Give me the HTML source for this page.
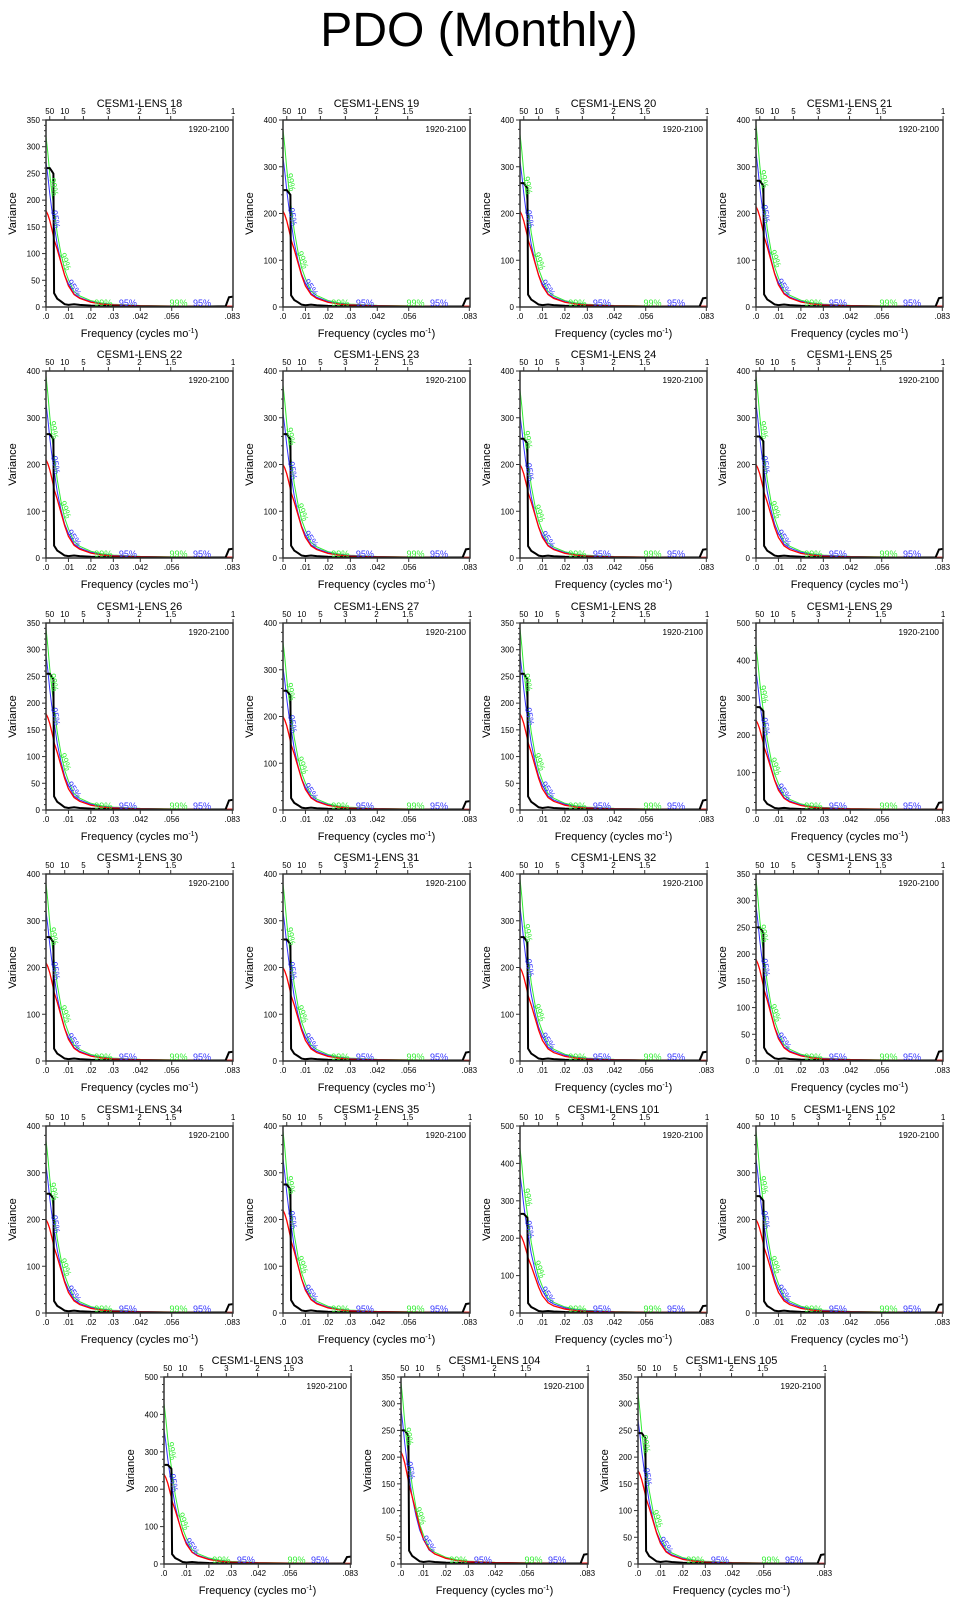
<!DOCTYPE html>
<html><head><meta charset="utf-8"><style>
html,body{margin:0;padding:0;background:#fff;}
svg{display:block;font-family:"Liberation Sans",sans-serif;}
</style></head><body>
<svg id="fig" width="958" height="1602" viewBox="0 0 958 1602" xmlns="http://www.w3.org/2000/svg">
<text x="479" y="46" text-anchor="middle" font-size="48" fill="#000">PDO (Monthly)</text>
</svg>
<script>
// Shared frequency grid (cycles/month)
const freq = [0, .00083, .00167, .0025, .0033, .0036, .005, .0067, .0083, .01, .0125, .015, .02, .025, .03, .042, .056, .07, .08, .0815, .0833];
// Spectrum shape fractions (of plateau / start values)
const blackShape = [1,1,1,0.98,0.96,0.1,0.06,0.04,0.02,0.015,0.02,0.015,0.01,0.008,0.005,0.003,0.003,0.003,0.005,0.07,0.075];
const redShape = [1,0.96,0.9,0.82,0.74,0.7,0.6,0.46,0.33,0.22,0.13,0.09,0.05,0.03,0.02,0.012,0.009,0.007,0.007,0.007,0.007];
const sigShape = [1,0.9,0.78,0.68,0.6,0.57,0.43,0.31,0.22,0.16,0.09,0.065,0.037,0.023,0.016,0.009,0.006,0.005,0.004,0.004,0.004];
// Per-panel values
const members = ["18","19","20","21","22","23","24","25","26","27","28","29","30","31","32","33","34","35","101","102","103","104","105"];
const yMaxes  = [350,400,400,400,400,400,400,400,350,400,350,500,400,400,400,350,400,400,500,400,500,350,350];
const blackLevel = [260,250,265,270,265,265,255,260,255,255,255,275,265,260,265,250,255,275,265,250,265,250,245];
const redStart   = [180,205,205,215,210,200,200,200,180,200,180,240,210,200,200,190,200,220,210,200,240,210,175];
const greenStart = [320,380,370,390,390,370,360,390,340,360,340,440,380,380,390,340,370,390,440,390,430,340,320];
const blueStart  = [272,320,312,330,330,310,305,330,290,305,290,370,320,320,330,290,315,330,370,330,360,290,270];
const bottomTicks = [0,.01,.02,.03,.042,.056,.083];
const bottomLabels = [".0",".01",".02",".03",".042",".056",".083"];
const periodYears = [50,10,5,3,2,1.5,1];
const periodLabels = ["50","10","5","3","2","1.5","1"];

const NS="http://www.w3.org/2000/svg";
const svg=document.getElementById('fig');
function mk(tag,attrs,parent){const e=document.createElementNS(NS,tag);for(const k in attrs)e.setAttribute(k,attrs[k]);(parent||svg).appendChild(e);return e;}
const XMAX=0.0833, W=187, H=187;
const colX=[46,283,520,756], lastX=[164,401,638];
const rowY=[120,371,623,874,1126,1377];

members.forEach((m,i)=>{
  let r=Math.floor(i/4), c=i%4;
  let L = r<5 ? colX[c] : lastX[c];
  let T = rowY[r];
  const ymax=yMaxes[i];
  const sx=f=>L+f/XMAX*W;
  const sy=v=>T+H-Math.min(v,ymax)/ymax*H;
  const g=mk('g',{});
  
  
  const t=mk('text',{x:L+W/2,y:T-13,'text-anchor':'middle','font-size':11},g);
  t.textContent='CESM1-LENS '+m;
  
  
  const pr=mk('text',{x:L+W-4,y:T+12,'text-anchor':'end','font-size':8.5},g);
  pr.textContent='1920-2100';
  
  
  const cid='clip'+i;
  const cp=mk('clipPath',{id:cid},g);mk('rect',{x:L,y:T,width:W,height:H},cp);
  const plot=mk('g',{'clip-path':'url(#'+cid+')'},g);
  const path=(arr,scale)=>freq.map((f,k)=>(k?'L':'M')+sx(f).toFixed(2)+','+sy(arr[k]*scale).toFixed(2)).join('');
  const gl=mk('path',{d:path(sigShape,greenStart[i]),fill:'none',stroke:'#33ee33','stroke-width':1},plot);
  
  
  const bl=mk('path',{d:path(sigShape,blueStart[i]),fill:'none',stroke:'#3333ff','stroke-width':1},plot);
  
  
  const rl=mk('path',{d:path(redShape,redStart[i]),fill:'none',stroke:'#ff0000','stroke-width':1.3},plot);
  
  
  const kl=mk('path',{d:path(blackShape,blackLevel[i]),fill:'none',stroke:'#000','stroke-width':2},plot);
  
  
  [[.0022,greenStart[i]*0.7,'99%','#33ee33',80],[.003,blueStart[i]*0.6,'95%','#3333ff',80],
   [.0075,greenStart[i]*0.26,'99%','#33ee33',70],[.0115,blueStart[i]*0.12,'95%','#3333ff',55],
   [.0255,0,'99%','#33ee33',0],[.0365,0,'95%','#3333ff',0],[.059,0,'99%','#33ee33',0],[.0695,0,'95%','#3333ff',0]]
  .forEach(([f,v,s,col,rot])=>{
    const x=sx(f), y=rot? sy(v) : T+H-1;
    const lt=mk('text',{x:x,y:y,'text-anchor':'middle','font-size':9,fill:col,transform:rot?`rotate(${rot} ${x} ${y})`:''},g);
    lt.textContent=s;
    
    
  });
  const fr=mk('rect',{x:L,y:T,width:W,height:H,fill:'none',stroke:'#333','stroke-width':1.5},g);
  
  
  const major=ymax===350?50:100, minor=ymax===350?10:20;
  for(let v=0;v<=ymax;v+=minor){
    const y=sy(v), isM=v%major===0;
    mk('line',{x1:L,x2:L-(isM?4:2),y1:y,y2:y,stroke:'#333','stroke-width':1},g);
    if(isM){const yl=mk('text',{x:L-6,y:y+3,'text-anchor':'end','font-size':8},g);yl.textContent=v;
      
      }
  }
  const va=mk('text',{x:L-30,y:T+H/2,'text-anchor':'middle','font-size':11,transform:`rotate(-90 ${L-30} ${T+H/2})`},g);
  va.textContent='Variance';
  
  
  bottomTicks.forEach((f,k)=>{
    const x=sx(Math.min(f,XMAX));
    mk('line',{x1:x,x2:x,y1:T+H,y2:T+H+4,stroke:'#333','stroke-width':1},g);
    const bt=mk('text',{x:x,y:T+H+12,'text-anchor':'middle','font-size':8},g);bt.textContent=bottomLabels[k];
    
    
  });
  const xt=mk('text',{x:L+W/2,y:T+H+30,'text-anchor':'middle','font-size':11},g);
  xt.innerHTML='Frequency (cycles mo<tspan font-size="7" dy="-4">-1</tspan><tspan dy="4">)</tspan>';
  
  
  periodYears.forEach((p,k)=>{
    const x=sx(1/(12*p));
    mk('line',{x1:x,x2:x,y1:T,y2:T-4,stroke:'#333','stroke-width':1},g);
    const pt=mk('text',{x:x,y:T-6,'text-anchor':'middle','font-size':8},g);pt.textContent=periodLabels[k];
    
    
  });
});
</script>
</body></html>
